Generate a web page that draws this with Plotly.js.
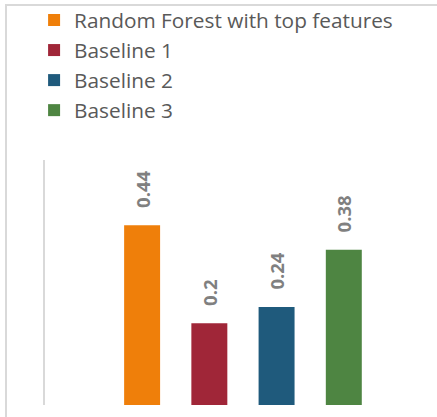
<!DOCTYPE html>
<html>
<head>
<meta charset="utf-8">
<script src="https://cdn.plot.ly/plotly-3.0.1.min.js"></script>
<style>
  html, body { margin: 0; padding: 0; background: #ffffff; }
  #wrap { position: relative; width: 437px; height: 417px; overflow: hidden; }
  #frame {
    position: absolute; left: 5px; top: 4px; width: 460px; height: 440px;
    border-left: 2px solid #d9d9d9; border-top: 2px solid #d9d9d9;
    pointer-events: none;
  }
  #chart { position: absolute; left: 0; top: 0; width: 437px; height: 417px; }
</style>
</head>
<body>
<div id="wrap">
  <div id="frame"></div>
  <div id="chart"></div>
</div>
<script>
// One group, four models side by side
const models = ["Random Forest with top features", "Baseline 1", "Baseline 2", "Baseline 3"];
const scores = [0.44, 0.2, 0.24, 0.38];
const colors = ["#ef7f0a", "#a02638", "#1f5a7c", "#4e8542"];
const group = [""];

const traces = models.map((name, i) => ({
  type: "bar",
  name: name,
  x: group,
  y: [scores[i]],
  marker: { color: colors[i] },
  texttemplate: "\u00a0\u00a0\u00a0%{y}",
  textposition: "outside",
  textangle: -90,
  constraintext: "none",
  cliponaxis: false,
  textfont: { family: "Open Sans, sans-serif", size: 18.5, color: "#808080", weight: "bold" },
  hoverinfo: "skip"
}));

const layout = {
  width: 437,
  height: 417,
  margin: { l: 45, r: 0, t: 160, b: 12, autoexpand: false },
  paper_bgcolor: "rgba(0,0,0,0)",
  plot_bgcolor: "rgba(0,0,0,0)",
  barmode: "group",
  bargap: 0.314,
  bargroupgap: 0.465,
  showlegend: true,
  legend: {
    xref: "container", yref: "container",
    x: 0.078, y: 1.0, xanchor: "left", yanchor: "top",
    font: { family: "Open Sans, sans-serif", size: 20.8, color: "#595959" },
    bgcolor: "rgba(0,0,0,0)",
    borderwidth: 0,
    itemwidth: 30,
    traceorder: "normal"
  },
  xaxis: {
    range: [-0.505, 0.495],
    showline: false, showgrid: false, zeroline: false,
    showticklabels: false, ticks: "", fixedrange: true
  },
  yaxis: {
    range: [0, 0.6],
    showline: true, linecolor: "#d9d9d9", linewidth: 2,
    showgrid: false, zeroline: false,
    showticklabels: false, ticks: "", fixedrange: true
  }
};

Plotly.newPlot("chart", traces, layout, { staticPlot: true, displayModeBar: false });
</script>
</body>
</html>
